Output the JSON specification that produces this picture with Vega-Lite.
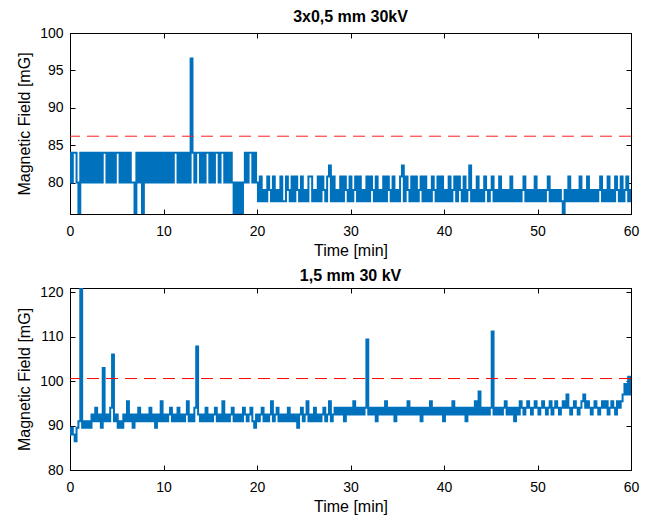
{
"$schema": "https://vega.github.io/schema/vega-lite/v6.json",
"background": "white",
"padding": {"left": 16, "top": 8, "right": 10, "bottom": 4},
"spacing": 8,
"config": {
  "font": "Liberation Sans",
  "view": {"stroke": "black", "strokeWidth": 1},
  "axis": {"grid": false, "labelFlush": false, "domainColor": "black", "domainWidth": 1, "tickColor": "black", "tickSize": -5, "labelColor": "black", "titleColor": "black", "labelFontSize": 14, "titleFontSize": 16, "titleFontWeight": "normal", "titlePadding": 4, "labelFont": "Liberation Sans", "titleFont": "Liberation Sans"},
  "axisX": {"labelPadding": 15},
  "axisY": {"labelPadding": 12, "titlePadding": 7},
  "title": {"fontSize": 16, "fontWeight": "bold", "color": "black", "offset": 1, "font": "Liberation Sans"}
},
"datasets": {
"a": [
{"t":0,"v":84},{"t":0.2,"v":80},{"t":0.4,"v":84},{"t":0.6,"v":84},{"t":0.8,"v":80},{"t":1,"v":75.8},{"t":1.2,"v":84},{"t":1.4,"v":80},{"t":1.6,"v":84},{"t":1.8,"v":80},
{"t":2,"v":84},{"t":2.2,"v":80},{"t":2.4,"v":84},{"t":2.6,"v":80},{"t":2.8,"v":84},{"t":3,"v":80},{"t":3.2,"v":84},{"t":3.4,"v":80},{"t":3.6,"v":84},{"t":3.8,"v":84},
{"t":4,"v":80},{"t":4.2,"v":84},{"t":4.4,"v":80},{"t":4.6,"v":84},{"t":4.8,"v":80},{"t":5,"v":84},{"t":5.2,"v":84},{"t":5.4,"v":80},{"t":5.6,"v":84},{"t":5.8,"v":80},
{"t":6,"v":84},{"t":6.2,"v":80},{"t":6.4,"v":84},{"t":6.6,"v":80},{"t":6.8,"v":80},{"t":7,"v":75.8},{"t":7.2,"v":84},{"t":7.4,"v":80},{"t":7.6,"v":84},{"t":7.8,"v":75.8},
{"t":8,"v":84},{"t":8.2,"v":80},{"t":8.4,"v":84},{"t":8.6,"v":80},{"t":8.8,"v":84},{"t":9,"v":80},{"t":9.2,"v":84},{"t":9.4,"v":80},{"t":9.6,"v":84},{"t":9.8,"v":80},
{"t":10,"v":84},{"t":10.2,"v":80},{"t":10.4,"v":84},{"t":10.6,"v":80},{"t":10.8,"v":84},{"t":11,"v":80},{"t":11.2,"v":84},{"t":11.4,"v":84},{"t":11.6,"v":80},{"t":11.8,"v":84},
{"t":12,"v":80},{"t":12.2,"v":84},{"t":12.4,"v":80},{"t":12.6,"v":84},{"t":12.8,"v":80},{"t":13,"v":96.6},{"t":13.2,"v":84},{"t":13.4,"v":80},{"t":13.6,"v":84},{"t":13.8,"v":84},
{"t":14,"v":80},{"t":14.2,"v":84},{"t":14.4,"v":80},{"t":14.6,"v":84},{"t":14.8,"v":84},{"t":15,"v":80},{"t":15.2,"v":84},{"t":15.4,"v":80},{"t":15.6,"v":84},{"t":15.8,"v":84},
{"t":16,"v":80},{"t":16.2,"v":84},{"t":16.4,"v":84},{"t":16.6,"v":80},{"t":16.8,"v":84},{"t":17,"v":80},{"t":17.2,"v":84},{"t":17.4,"v":80},{"t":17.6,"v":75.8},{"t":17.8,"v":80},
{"t":18,"v":75.8},{"t":18.2,"v":80},{"t":18.4,"v":75.8},{"t":18.6,"v":80},{"t":18.8,"v":84},{"t":19,"v":80},{"t":19.2,"v":84},{"t":19.4,"v":84},{"t":19.6,"v":80},{"t":19.8,"v":84},
{"t":20,"v":80},{"t":20.2,"v":77.5},{"t":20.4,"v":80.8},{"t":20.6,"v":77.5},{"t":20.8,"v":79},{"t":21,"v":77.5},{"t":21.2,"v":80.8},{"t":21.4,"v":79},{"t":21.6,"v":77.5},{"t":21.8,"v":80.8},
{"t":22,"v":77.5},{"t":22.2,"v":79},{"t":22.4,"v":77.5},{"t":22.6,"v":80.8},{"t":22.8,"v":77.5},{"t":23,"v":77.5},{"t":23.2,"v":80.8},{"t":23.4,"v":79},{"t":23.6,"v":77.5},{"t":23.8,"v":80.8},
{"t":24,"v":77.5},{"t":24.2,"v":80.8},{"t":24.4,"v":79},{"t":24.6,"v":77.5},{"t":24.8,"v":80.8},{"t":25,"v":77.5},{"t":25.2,"v":79},{"t":25.4,"v":77.5},{"t":25.6,"v":80.8},{"t":25.8,"v":80.8},
{"t":26,"v":77.5},{"t":26.2,"v":79},{"t":26.4,"v":77.5},{"t":26.6,"v":80.8},{"t":26.8,"v":77.5},{"t":27,"v":80.8},{"t":27.2,"v":79},{"t":27.4,"v":77.5},{"t":27.6,"v":80.8},{"t":27.8,"v":82.3},
{"t":28,"v":77.5},{"t":28.2,"v":80.8},{"t":28.4,"v":77.5},{"t":28.6,"v":79},{"t":28.8,"v":77.5},{"t":29,"v":80.8},{"t":29.2,"v":77.5},{"t":29.4,"v":80.8},{"t":29.6,"v":79},{"t":29.8,"v":77.5},
{"t":30,"v":80.8},{"t":30.2,"v":77.5},{"t":30.4,"v":79},{"t":30.6,"v":80.8},{"t":30.8,"v":77.5},{"t":31,"v":80.8},{"t":31.2,"v":77.5},{"t":31.4,"v":79},{"t":31.6,"v":77.5},{"t":31.8,"v":80.8},
{"t":32,"v":77.5},{"t":32.2,"v":80.8},{"t":32.4,"v":79},{"t":32.6,"v":77.5},{"t":32.8,"v":80.8},{"t":33,"v":77.5},{"t":33.2,"v":79},{"t":33.4,"v":77.5},{"t":33.6,"v":80.8},{"t":33.8,"v":77.5},
{"t":34,"v":80.8},{"t":34.2,"v":79},{"t":34.4,"v":77.5},{"t":34.6,"v":80.8},{"t":34.8,"v":77.5},{"t":35,"v":79},{"t":35.2,"v":77.5},{"t":35.4,"v":80.8},{"t":35.6,"v":82.3},{"t":35.8,"v":77.5},
{"t":36,"v":80.8},{"t":36.2,"v":79},{"t":36.4,"v":77.5},{"t":36.6,"v":80.8},{"t":36.8,"v":77.5},{"t":37,"v":80.8},{"t":37.2,"v":77.5},{"t":37.4,"v":79},{"t":37.6,"v":80.8},{"t":37.8,"v":77.5},
{"t":38,"v":80.8},{"t":38.2,"v":77.5},{"t":38.4,"v":79},{"t":38.6,"v":77.5},{"t":38.8,"v":80.8},{"t":39,"v":79},{"t":39.2,"v":77.5},{"t":39.4,"v":80.8},{"t":39.6,"v":77.5},{"t":39.8,"v":80.8},
{"t":40,"v":77.5},{"t":40.2,"v":79},{"t":40.4,"v":77.5},{"t":40.6,"v":80.8},{"t":40.8,"v":77.5},{"t":41,"v":79},{"t":41.2,"v":80.8},{"t":41.4,"v":77.5},{"t":41.6,"v":80.8},{"t":41.8,"v":79},
{"t":42,"v":77.5},{"t":42.2,"v":80.8},{"t":42.4,"v":77.5},{"t":42.6,"v":79},{"t":42.8,"v":82.3},{"t":43,"v":77.5},{"t":43.2,"v":79},{"t":43.4,"v":77.5},{"t":43.6,"v":80.8},{"t":43.8,"v":77.5},
{"t":44,"v":79},{"t":44.2,"v":77.5},{"t":44.4,"v":80.8},{"t":44.6,"v":79},{"t":44.8,"v":77.5},{"t":45,"v":79},{"t":45.2,"v":80.8},{"t":45.4,"v":77.5},{"t":45.6,"v":79},{"t":45.8,"v":77.5},
{"t":46,"v":80.8},{"t":46.2,"v":77.5},{"t":46.4,"v":79},{"t":46.6,"v":77.5},{"t":46.8,"v":79},{"t":47,"v":77.5},{"t":47.2,"v":80.8},{"t":47.4,"v":77.5},{"t":47.6,"v":79},{"t":47.8,"v":77.5},
{"t":48,"v":79},{"t":48.2,"v":77.5},{"t":48.4,"v":79},{"t":48.6,"v":80.8},{"t":48.8,"v":77.5},{"t":49,"v":79},{"t":49.2,"v":77.5},{"t":49.4,"v":79},{"t":49.6,"v":77.5},{"t":49.8,"v":80.8},
{"t":50,"v":77.5},{"t":50.2,"v":79},{"t":50.4,"v":77.5},{"t":50.6,"v":79},{"t":50.8,"v":77.5},{"t":51,"v":79},{"t":51.2,"v":80.8},{"t":51.4,"v":77.5},{"t":51.6,"v":79},{"t":51.8,"v":77.5},
{"t":52,"v":79},{"t":52.2,"v":77.5},{"t":52.4,"v":79},{"t":52.6,"v":77.5},{"t":52.8,"v":75.8},{"t":53,"v":79},{"t":53.2,"v":77.5},{"t":53.4,"v":80.8},{"t":53.6,"v":77.5},{"t":53.8,"v":79},
{"t":54,"v":77.5},{"t":54.2,"v":79},{"t":54.4,"v":77.5},{"t":54.6,"v":80.8},{"t":54.8,"v":77.5},{"t":55,"v":79},{"t":55.2,"v":77.5},{"t":55.4,"v":80.8},{"t":55.6,"v":77.5},{"t":55.8,"v":79},
{"t":56,"v":77.5},{"t":56.2,"v":79},{"t":56.4,"v":77.5},{"t":56.6,"v":79},{"t":56.8,"v":80.8},{"t":57,"v":77.5},{"t":57.2,"v":79},{"t":57.4,"v":77.5},{"t":57.6,"v":80.8},{"t":57.8,"v":77.5},
{"t":58,"v":79},{"t":58.2,"v":77.5},{"t":58.4,"v":80.8},{"t":58.6,"v":79},{"t":58.8,"v":77.5},{"t":59,"v":80.8},{"t":59.2,"v":77.5},{"t":59.4,"v":79},{"t":59.6,"v":80.8},{"t":59.8,"v":77.5},
{"t":60,"v":79}
],
"b": [
{"t":0,"v":88},{"t":0.2,"v":89.5},{"t":0.4,"v":88},{"t":0.6,"v":86.5},{"t":0.8,"v":89.5},{"t":1,"v":91},{"t":1.2,"v":121},{"t":1.4,"v":89.5},{"t":1.6,"v":91},{"t":1.8,"v":89.5},
{"t":2,"v":91},{"t":2.2,"v":89.5},{"t":2.4,"v":92.5},{"t":2.6,"v":91},{"t":2.8,"v":94},{"t":3,"v":91},{"t":3.2,"v":92.5},{"t":3.4,"v":89.5},{"t":3.6,"v":103},{"t":3.8,"v":91},
{"t":4,"v":92.5},{"t":4.2,"v":91},{"t":4.4,"v":94},{"t":4.6,"v":106},{"t":4.8,"v":91},{"t":5,"v":92.5},{"t":5.2,"v":89.5},{"t":5.4,"v":91},{"t":5.6,"v":89.5},{"t":5.8,"v":92.5},
{"t":6,"v":91},{"t":6.2,"v":95.5},{"t":6.4,"v":91},{"t":6.6,"v":92.5},{"t":6.8,"v":89.5},{"t":7,"v":92.5},{"t":7.2,"v":91},{"t":7.4,"v":94},{"t":7.6,"v":91},{"t":7.8,"v":92.5},
{"t":8,"v":91},{"t":8.2,"v":92.5},{"t":8.4,"v":91},{"t":8.6,"v":94},{"t":8.8,"v":91},{"t":9,"v":92.5},{"t":9.2,"v":89.5},{"t":9.4,"v":92.5},{"t":9.6,"v":91},{"t":9.8,"v":95.5},
{"t":10,"v":91},{"t":10.2,"v":92.5},{"t":10.4,"v":91},{"t":10.6,"v":92.5},{"t":10.8,"v":94},{"t":11,"v":91},{"t":11.2,"v":92.5},{"t":11.4,"v":91},{"t":11.6,"v":94},{"t":11.8,"v":91},
{"t":12,"v":92.5},{"t":12.2,"v":91},{"t":12.4,"v":92.5},{"t":12.6,"v":95.5},{"t":12.8,"v":91},{"t":13,"v":92.5},{"t":13.2,"v":91},{"t":13.4,"v":94},{"t":13.6,"v":107.8},{"t":13.8,"v":92.5},
{"t":14,"v":91},{"t":14.2,"v":92.5},{"t":14.4,"v":91},{"t":14.6,"v":94},{"t":14.8,"v":91},{"t":15,"v":92.5},{"t":15.2,"v":91},{"t":15.4,"v":92.5},{"t":15.6,"v":94},{"t":15.8,"v":91},
{"t":16,"v":92.5},{"t":16.2,"v":91},{"t":16.4,"v":95.5},{"t":16.6,"v":91},{"t":16.8,"v":92.5},{"t":17,"v":91},{"t":17.2,"v":92.5},{"t":17.4,"v":94},{"t":17.6,"v":91},{"t":17.8,"v":92.5},
{"t":18,"v":91},{"t":18.2,"v":92.5},{"t":18.4,"v":91},{"t":18.6,"v":94},{"t":18.8,"v":92.5},{"t":19,"v":91},{"t":19.2,"v":92.5},{"t":19.4,"v":94},{"t":19.6,"v":91},{"t":19.8,"v":89.5},
{"t":20,"v":92.5},{"t":20.2,"v":91},{"t":20.4,"v":92.5},{"t":20.6,"v":94},{"t":20.8,"v":91},{"t":21,"v":92.5},{"t":21.2,"v":91},{"t":21.4,"v":92.5},{"t":21.6,"v":95.5},{"t":21.8,"v":91},
{"t":22,"v":92.5},{"t":22.2,"v":94},{"t":22.4,"v":91},{"t":22.6,"v":92.5},{"t":22.8,"v":91},{"t":23,"v":92.5},{"t":23.2,"v":91},{"t":23.4,"v":94},{"t":23.6,"v":91},{"t":23.8,"v":92.5},
{"t":24,"v":91},{"t":24.2,"v":92.5},{"t":24.4,"v":89.5},{"t":24.6,"v":92.5},{"t":24.8,"v":94},{"t":25,"v":91},{"t":25.2,"v":92.5},{"t":25.4,"v":95.5},{"t":25.6,"v":91},{"t":25.8,"v":92.5},
{"t":26,"v":91},{"t":26.2,"v":94},{"t":26.4,"v":91},{"t":26.6,"v":92.5},{"t":26.8,"v":91},{"t":27,"v":92.5},{"t":27.2,"v":94},{"t":27.4,"v":91},{"t":27.6,"v":92.5},{"t":27.8,"v":95.5},
{"t":28,"v":91},{"t":28.2,"v":92.5},{"t":28.4,"v":94},{"t":28.6,"v":92.5},{"t":28.8,"v":94},{"t":29,"v":92.5},{"t":29.2,"v":94},{"t":29.4,"v":91},{"t":29.6,"v":94},{"t":29.8,"v":92.5},
{"t":30,"v":94},{"t":30.2,"v":92.5},{"t":30.4,"v":95.5},{"t":30.6,"v":92.5},{"t":30.8,"v":94},{"t":31,"v":92.5},{"t":31.2,"v":94},{"t":31.4,"v":92.5},{"t":31.6,"v":94},{"t":31.8,"v":109.4},
{"t":32,"v":92.5},{"t":32.2,"v":94},{"t":32.4,"v":92.5},{"t":32.6,"v":94},{"t":32.8,"v":91},{"t":33,"v":94},{"t":33.2,"v":92.5},{"t":33.4,"v":94},{"t":33.6,"v":92.5},{"t":33.8,"v":95.5},
{"t":34,"v":92.5},{"t":34.2,"v":94},{"t":34.4,"v":92.5},{"t":34.6,"v":94},{"t":34.8,"v":91},{"t":35,"v":94},{"t":35.2,"v":92.5},{"t":35.4,"v":94},{"t":35.6,"v":92.5},{"t":35.8,"v":94},
{"t":36,"v":92.5},{"t":36.2,"v":95.5},{"t":36.4,"v":92.5},{"t":36.6,"v":94},{"t":36.8,"v":92.5},{"t":37,"v":94},{"t":37.2,"v":92.5},{"t":37.4,"v":94},{"t":37.6,"v":91},{"t":37.8,"v":94},
{"t":38,"v":92.5},{"t":38.2,"v":94},{"t":38.4,"v":92.5},{"t":38.6,"v":95.5},{"t":38.8,"v":92.5},{"t":39,"v":94},{"t":39.2,"v":92.5},{"t":39.4,"v":94},{"t":39.6,"v":92.5},{"t":39.8,"v":94},
{"t":40,"v":91},{"t":40.2,"v":94},{"t":40.4,"v":92.5},{"t":40.6,"v":94},{"t":40.8,"v":92.5},{"t":41,"v":95.5},{"t":41.2,"v":92.5},{"t":41.4,"v":94},{"t":41.6,"v":92.5},{"t":41.8,"v":94},
{"t":42,"v":92.5},{"t":42.2,"v":94},{"t":42.4,"v":91},{"t":42.6,"v":94},{"t":42.8,"v":92.5},{"t":43,"v":94},{"t":43.2,"v":92.5},{"t":43.4,"v":95.5},{"t":43.6,"v":92.5},{"t":43.8,"v":97.7},
{"t":44,"v":92.5},{"t":44.2,"v":94},{"t":44.4,"v":92.5},{"t":44.6,"v":94},{"t":44.8,"v":92.5},{"t":45,"v":94},{"t":45.2,"v":111.2},{"t":45.4,"v":92.5},{"t":45.6,"v":94},{"t":45.8,"v":92.5},
{"t":46,"v":94},{"t":46.2,"v":92.5},{"t":46.4,"v":94},{"t":46.6,"v":95.5},{"t":46.8,"v":92.5},{"t":47,"v":94},{"t":47.2,"v":92.5},{"t":47.4,"v":94},{"t":47.6,"v":91},{"t":47.8,"v":94},
{"t":48,"v":92.5},{"t":48.2,"v":95.5},{"t":48.4,"v":94},{"t":48.6,"v":92.5},{"t":48.8,"v":94},{"t":49,"v":95.5},{"t":49.2,"v":94},{"t":49.4,"v":92.5},{"t":49.6,"v":94},{"t":49.8,"v":95.5},
{"t":50,"v":94},{"t":50.2,"v":92.5},{"t":50.4,"v":94},{"t":50.6,"v":95.5},{"t":50.8,"v":94},{"t":51,"v":92.5},{"t":51.2,"v":94},{"t":51.4,"v":95.5},{"t":51.6,"v":92.5},{"t":51.8,"v":94},
{"t":52,"v":95.5},{"t":52.2,"v":94},{"t":52.4,"v":92.5},{"t":52.6,"v":94},{"t":52.8,"v":95.5},{"t":53,"v":94},{"t":53.2,"v":97},{"t":53.4,"v":94},{"t":53.6,"v":92.5},{"t":53.8,"v":94},
{"t":54,"v":95.5},{"t":54.2,"v":94},{"t":54.4,"v":92.5},{"t":54.6,"v":94},{"t":54.8,"v":95.5},{"t":55,"v":97},{"t":55.2,"v":94},{"t":55.4,"v":95.5},{"t":55.6,"v":94},{"t":55.8,"v":92.5},
{"t":56,"v":94},{"t":56.2,"v":95.5},{"t":56.4,"v":94},{"t":56.6,"v":92.5},{"t":56.8,"v":94},{"t":57,"v":95.5},{"t":57.2,"v":94},{"t":57.4,"v":95.5},{"t":57.6,"v":92.5},{"t":57.8,"v":94},
{"t":58,"v":95.5},{"t":58.2,"v":94},{"t":58.4,"v":92.5},{"t":58.6,"v":95.5},{"t":58.8,"v":94},{"t":59,"v":95.5},{"t":59.2,"v":97},{"t":59.4,"v":99.4},{"t":59.6,"v":97},{"t":59.8,"v":101},
{"t":60,"v":97}
]
},
"vconcat": [
{
  "width": 561, "height": 181,
  "title": {"text": "3x0,5 mm 30kV"},
  "layer": [
    {"data": {"name": "a"},
     "mark": {"type": "line", "interpolate": "step", "color": "#0072BD", "strokeWidth": 2, "clip": true},
     "encoding": {
       "x": {"field": "t", "type": "quantitative", "scale": {"domain": [0, 60], "nice": false}, "axis": {"orient": "bottom", "values": [0,10,20,30,40,50,60], "title": "Time [min]"}},
       "y": {"field": "v", "type": "quantitative", "scale": {"domain": [75.8, 100], "nice": false, "zero": false}, "axis": {"orient": "left", "values": [80,85,90,95,100], "title": "Magnetic Field [mG]"}}
     }},
    {"data": {"values": [{"limit": 86.2}]},
     "mark": {"type": "rule", "color": "#ff2020", "strokeDash": [12, 7], "strokeWidth": 1},
     "encoding": {"y": {"field": "limit", "type": "quantitative", "scale": {"domain": [75.8, 100], "nice": false, "zero": false}, "axis": {"orient": "right", "labels": false, "title": null, "values": [80,85,90,95,100]}}}},
    {"data": {"values": [{"x0": 0}]},
     "mark": {"type": "rule", "opacity": 0},
     "encoding": {"x": {"field": "x0", "type": "quantitative", "scale": {"domain": [0, 60], "nice": false}, "axis": {"orient": "top", "labels": false, "title": null, "values": [0,10,20,30,40,50,60]}}}}
  ],
  "resolve": {"axis": {"x": "independent", "y": "independent"}}
},
{
  "width": 561, "height": 182,
  "title": {"text": "1,5 mm 30 kV"},
  "layer": [
    {"data": {"name": "b"},
     "mark": {"type": "line", "interpolate": "step", "color": "#0072BD", "strokeWidth": 2, "clip": true},
     "encoding": {
       "x": {"field": "t", "type": "quantitative", "scale": {"domain": [0, 60], "nice": false}, "axis": {"orient": "bottom", "values": [0,10,20,30,40,50,60], "title": "Time [min]"}},
       "y": {"field": "v", "type": "quantitative", "scale": {"domain": [80, 121], "nice": false, "zero": false}, "axis": {"orient": "left", "values": [80,90,100,110,120], "title": "Magnetic Field [mG]"}}
     }},
    {"data": {"values": [{"limit": 100.6}]},
     "mark": {"type": "rule", "color": "#ff0000", "strokeDash": [12, 7], "strokeWidth": 1},
     "encoding": {"y": {"field": "limit", "type": "quantitative", "scale": {"domain": [80, 121], "nice": false, "zero": false}, "axis": {"orient": "right", "labels": false, "title": null, "values": [80,90,100,110,120]}}}},
    {"data": {"values": [{"x0": 0}]},
     "mark": {"type": "rule", "opacity": 0},
     "encoding": {"x": {"field": "x0", "type": "quantitative", "scale": {"domain": [0, 60], "nice": false}, "axis": {"orient": "top", "labels": false, "title": null, "values": [0,10,20,30,40,50,60]}}}}
  ],
  "resolve": {"axis": {"x": "independent", "y": "independent"}}
}
]
}
